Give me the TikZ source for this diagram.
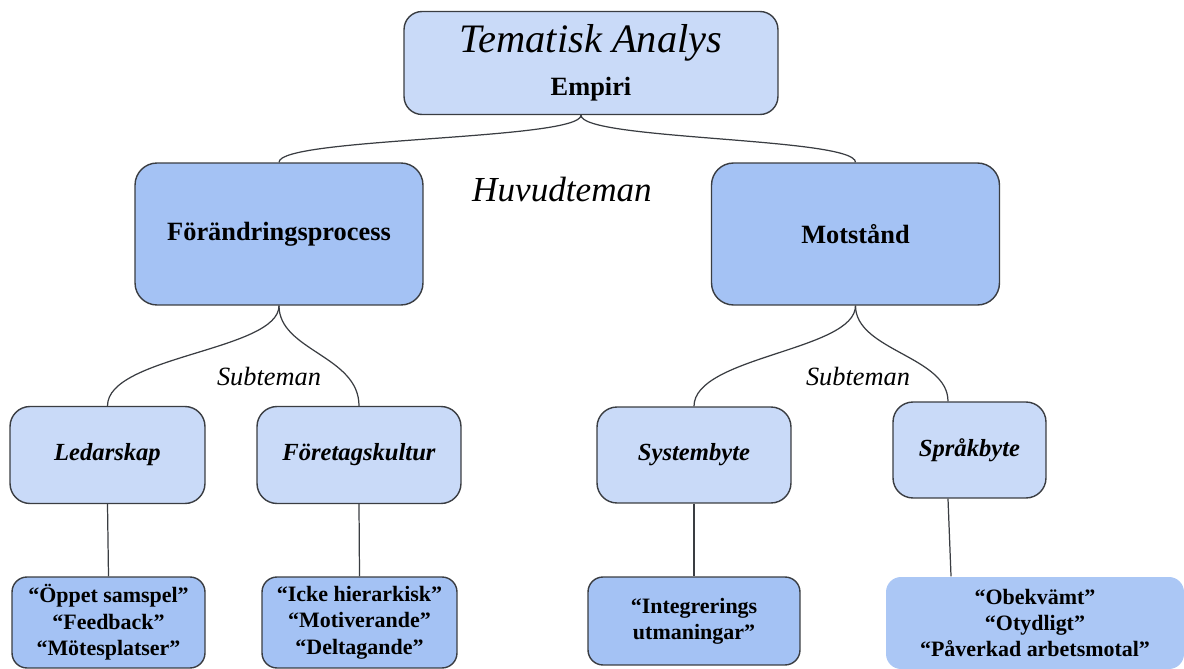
\documentclass[tikz,border=0pt]{standalone}
\usepackage{fontspec}
\setmainfont{Liberation Serif}
\definecolor{lightbox}{HTML}{C9DAF8}
\definecolor{midbox}{HTML}{A4C2F4}
\definecolor{edgegray}{HTML}{3A3D42}

\begin{document}
\begin{tikzpicture}[x=0.02cm, y=-0.02cm,
    box/.style={rectangle, rounded corners=0.36cm, draw=edgegray, line width=0.8pt, align=center, inner sep=2pt},
    topbox/.style={box, fill=lightbox, minimum width=7.48cm, minimum height=2.06cm},
    mainbox/.style={box, fill=midbox, minimum width=5.76cm, minimum height=2.84cm, rounded corners=0.44cm,
        font=\fontsize{15}{18}\selectfont\bfseries},
    subbox/.style={box, fill=lightbox, minimum height=1.94cm, rounded corners=0.4cm,
        font=\fontsize{14}{17}\selectfont\bfseries\itshape},
    quotebox/.style={box, fill=midbox, minimum height=1.8cm, rounded corners=0.3cm,
        font=\fontsize{12.5}{15}\selectfont\bfseries},
    caption/.style={font=\fontsize{15}{18}\selectfont\itshape, inner sep=0pt},
    conn/.style={draw=edgegray, line width=0.7pt}]
    \useasboundingbox (0,0) rectangle (1184,669);

    % Nodes
    \node[topbox] (tema) at (591,63) {{\fontsize{23}{26}\selectfont\itshape Tematisk Analys}\\[8pt]{\fontsize{15}{18}\selectfont\bfseries Empiri}};

    \node[mainbox] (forand) at (279,234) {Förändringsprocess};
    \node[mainbox] (motstand) at (855.5,234) {Motstånd};
    \node[caption, font=\fontsize{20}{24}\selectfont\itshape] (huvud) at (562,190) {Huvudteman};

    \node[subbox, minimum width=3.9cm] (led) at (107.5,455) {Ledarskap};
    \node[subbox, minimum width=4.08cm] (kultur) at (359,455) {Företagskultur};
    \node[subbox, minimum width=3.88cm, minimum height=1.92cm] (system) at (694,455) {Systembyte};
    \node[subbox, minimum width=3.06cm, minimum height=1.92cm] (sprak) at (969.5,450) {Språkbyte};
    \node[caption] (subA) at (269,377) {Subteman};
    \node[caption] (subB) at (858,377) {Subteman};

    \node[quotebox, minimum width=3.86cm, minimum height=1.82cm] (ledq) at (108.5,622.5) {“Öppet samspel”\\“Feedback”\\“Mötesplatser”};
    \node[quotebox, minimum width=3.9cm, minimum height=1.82cm] (kulturq) at (359.5,622.5) {“Icke hierarkisk”\\“Motiverande”\\“Deltagande”};
    \node[quotebox, minimum width=4.24cm, minimum height=1.76cm] (systemq) at (694,621) {“Integrerings\\utmaningar”};
    \node[quotebox, draw=none, fill=midbox!92!white, minimum width=5.96cm, minimum height=1.84cm] (sprakq) at (1035,623) {“Obekvämt”\\“Otydligt”\\“Påverkad arbetsmotal”};

    % Edges
    \draw[conn] ([xshift=-0.2cm]tema.south) .. controls +(0,25) and +(0,-25) .. (forand.north);
    \draw[conn] ([xshift=-0.2cm]tema.south) .. controls +(0,25) and +(0,-25) .. (motstand.north);

    \draw[conn] (forand.south) .. controls +(0,45) and +(0,-50) .. (led.north);
    \draw[conn] (forand.south) .. controls +(0,45) and +(0,-50) .. (kultur.north);
    \draw[conn] (motstand.south) .. controls +(0,45) and +(0,-50) .. (system.north);
    \draw[conn] (motstand.south) .. controls +(0,45) and +(0,-45) .. ([xshift=-0.43cm]sprak.north);

    \draw[conn] (led.south) -- (ledq.north);
    \draw[conn] (kultur.south) -- (kulturq.north);
    \draw[conn] (system.south) -- (systemq.north);
    \draw[conn] ([xshift=-0.43cm]sprak.south) -- ([xshift=-1.68cm]sprakq.north);
\end{tikzpicture}
\end{document}
